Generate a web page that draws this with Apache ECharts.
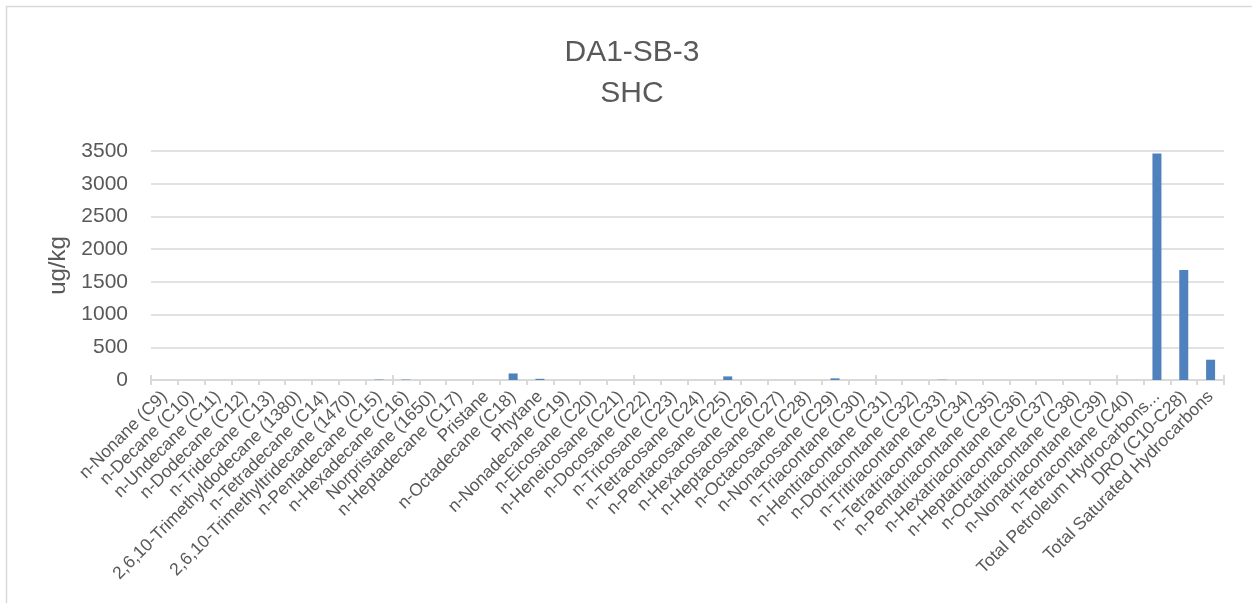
<!DOCTYPE html>
<html>
<head>
<meta charset="utf-8">
<style>
  html, body { margin: 0; padding: 0; background: #fff; }
  #chart { width: 1252px; height: 603px; }
</style>
<script src="https://cdn.jsdelivr.net/npm/echarts@6/dist/echarts.min.js"></script>
</head>
<body>
<div id="chart"></div>
<script>
// Compound names along the category axis
const compounds = [
  'n-Nonane (C9)', 'n-Decane (C10)', 'n-Undecane (C11)', 'n-Dodecane (C12)', 'n-Tridecane (C13)',
  '2,6,10-Trimethyldodecane (1380)', 'n-Tetradecane (C14)', '2,6,10-Trimethyltridecane (1470)',
  'n-Pentadecane (C15)', 'n-Hexadecane (C16)', 'Norpristane (1650)', 'n-Heptadecane (C17)',
  'Pristane', 'n-Octadecane (C18)', 'Phytane', 'n-Nonadecane (C19)', 'n-Eicosane (C20)',
  'n-Heneicosane (C21)', 'n-Docosane (C22)', 'n-Tricosane (C23)', 'n-Tetracosane (C24)',
  'n-Pentacosane (C25)', 'n-Hexacosane (C26)', 'n-Heptacosane (C27)', 'n-Octacosane (C28)',
  'n-Nonacosane (C29)', 'n-Triacontane (C30)', 'n-Hentriacontane (C31)', 'n-Dotriacontane (C32)',
  'n-Tritriacontane (C33)', 'n-Tetratriacontane (C34)', 'n-Pentatriacontane (C35)',
  'n-Hexatriacontane (C36)', 'n-Heptatriacontane (C37)', 'n-Octatriacontane (C38)',
  'n-Nonatriacontane (C39)', 'n-Tetracontane (C40)', 'Total Petroleum Hydrocarbons...',
  'DRO (C10-C28)', 'Total Saturated Hydrocarbons'
];

// Concentrations, ug/kg
const concentrations = [
  0, 0, 0, 0, 0,
  0, 0, 0,
  6, 6, 0, 0,
  0, 100, 18, 0, 0,
  0, 0, 0, 0,
  55, 0, 0, 0,
  25, 0, 0, 0,
  4, 0, 0,
  0, 0, 0,
  0, 0, 3460,
  1680, 310
];

// Value axis ticks
const yTicks = [0, 500, 1000, 1500, 2000, 2500, 3000, 3500];

const chartTitle = 'DA1-SB-3';
const chartSubtitle = 'SHC';
const yAxisTitle = 'ug/kg';

const FONT = '"Liberation Sans", Arial, sans-serif';
const TEXT = '#595959';
const GRID = '#D9D9D9';

const chart = echarts.init(document.getElementById('chart'), null, { renderer: 'canvas' });

chart.setOption({
  animation: false,
  backgroundColor: '#ffffff',
  graphic: [{
    type: 'rect',
    silent: true,
    shape: { x: 6.5, y: 6.5, width: 1400, height: 800 },
    style: { fill: 'none', stroke: GRID, lineWidth: 1.5 }
  }],
  title: {
    text: chartTitle + '\n' + chartSubtitle,
    left: 627,
    top: 27,
    textAlign: 'center',
    textStyle: {
      fontFamily: FONT,
      fontWeight: 'normal',
      fontSize: 30,
      lineHeight: 41,
      color: TEXT
    }
  },
  grid: {
    left: 151,
    right: 28,
    top: 151,
    bottom: 223,
    containLabel: false
  },
  xAxis: [{
    type: 'category',
    data: compounds,
    boundaryGap: true,
    axisLine: { lineStyle: { color: GRID, width: 2 } },
    axisTick: { show: true, length: 5, lineStyle: { color: GRID, width: 2 } },
    axisLabel: {
      interval: 0,
      rotate: 45,
      margin: 14,
      fontFamily: FONT,
      fontSize: 17.5,
      color: TEXT
    },
    splitLine: { show: false }
  }, {
    type: 'category',
    data: compounds,
    position: 'bottom',
    boundaryGap: true,
    axisLine: { show: false },
    axisTick: { show: true, inside: true, length: 5, lineStyle: { color: GRID, width: 2 } },
    axisLabel: { show: false },
    splitLine: { show: false }
  }],
  yAxis: {
    type: 'value',
    min: yTicks[0],
    max: yTicks[yTicks.length - 1],
    interval: yTicks[1] - yTicks[0],
    name: yAxisTitle,
    nameLocation: 'middle',
    nameRotate: 90,
    nameGap: 65,
    nameTextStyle: { fontFamily: FONT, fontSize: 24, color: TEXT },
    axisLine: { show: false },
    axisTick: { show: false },
    axisLabel: {
      margin: 23,
      fontFamily: FONT,
      fontSize: 21,
      color: TEXT,
      formatter: function (v) { return String(v); }
    },
    splitLine: { lineStyle: { color: GRID, width: 1.5 } }
  },
  series: [{
    type: 'bar',
    data: concentrations,
    xAxisIndex: 0,
    barWidth: 9,
    itemStyle: { color: '#4F81BD' }
  }]
});
</script>
</body>
</html>
